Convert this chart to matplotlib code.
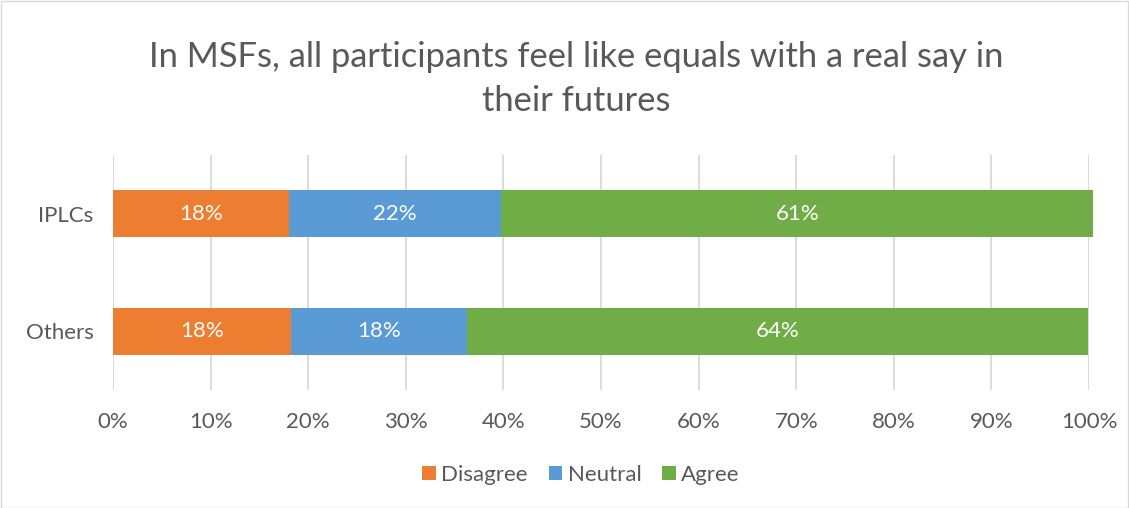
import matplotlib
matplotlib.use("Agg")
import matplotlib.pyplot as plt
from matplotlib.patches import Rectangle

categories = ["Others", "IPLCs"]
series = ["Disagree", "Neutral", "Agree"]
disagree = [18.2, 18.0]
neutral = [18.1, 21.8]
agree = [63.6, 60.6]
colors = ["#ED7D31", "#5B9BD5", "#70AD47"]
xticks = [0, 10, 20, 30, 40, 50, 60, 70, 80, 90, 100]
title = "In MSFs, all participants feel like equals with a real say in\ntheir futures"

plt.rcParams['font.family'] = ['Lato', 'DejaVu Sans']
txt = "#595959"
fs = 16

fig = plt.figure(figsize=(11.29, 5.08), dpi=100)
ax = fig.add_axes([113/1129, 118/508, 976/1129, 235/508])

ypos = list(range(len(categories)))
left = [0.0] * len(categories)
for name, vals, c in zip(series, [disagree, neutral, agree], colors):
    bars = ax.barh(ypos, vals, left=left, height=0.4, color=c, label=name,
                   zorder=3, clip_on=False)
    for y, l, v in zip(ypos, left, vals):
        ax.text(l + v / 2, y, f"{v:.0f}%", ha="center", va="center",
                color="white", fontsize=fs, zorder=4)
    left = [a + b for a, b in zip(left, vals)]

ax.set_xlim(0, 100)
ax.set_ylim(-0.5, 1.5)
ax.set_xticks(xticks)
ax.set_xticklabels([f"{t}%" for t in xticks], color=txt, fontsize=fs)
ax.set_yticks(ypos)
ax.set_yticklabels(categories, color=txt, fontsize=fs)
ax.tick_params(axis="y", length=0, pad=14)
ax.tick_params(axis="x", length=0, pad=16)
ax.grid(axis="x", color="#D9D9D9", linewidth=1.3, zorder=0)
for s in ax.spines.values():
    s.set_visible(False)

fig.text(576/1129, 1 - 79/508, title, ha="center", va="center",
         fontsize=24.8, color=txt, linespacing=1.45)

leg = fig.legend(loc="center", bbox_to_anchor=(581/1129, 1 - 475/508), ncol=3,
                 frameon=False, fontsize=fs, handlelength=0.6, handleheight=0.6,
                 handletextpad=0.25, columnspacing=0.95)
for t in leg.get_texts():
    t.set_color(txt)

fig.patches.append(Rectangle((0.5/1129, 0.5/508), 1 - 1.5/1129, 1 - 1.5/508,
                             transform=fig.transFigure, fill=False,
                             edgecolor="#D9D9D9", linewidth=1))

fig.savefig("out.png", dpi=100, facecolor="white")
